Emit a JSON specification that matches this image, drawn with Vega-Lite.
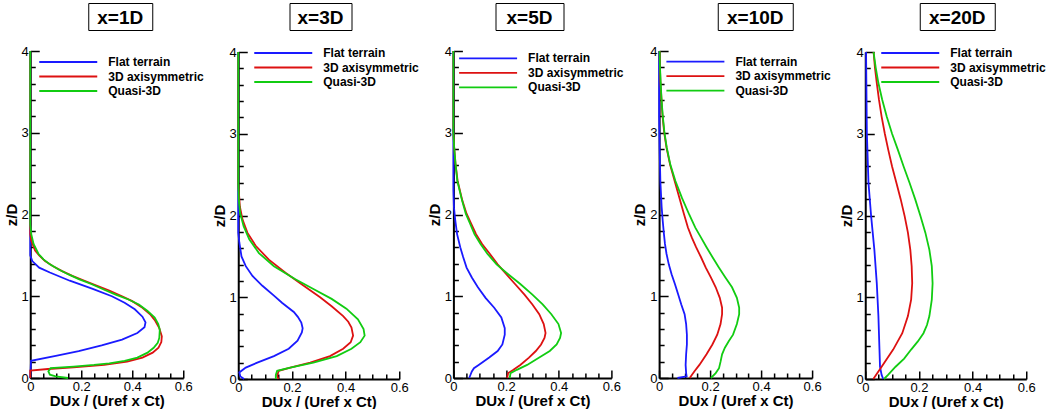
{
"$schema": "https://vega.github.io/schema/vega-lite/v6.json",
"background": "white",
"padding": {"left": 4, "top": 2, "right": 0, "bottom": 0},
"config": {
  "font": "Liberation Sans",
  "view": {"stroke": null},
  "axis": {"domainColor": "black", "domainWidth": 2, "tickColor": "black", "tickWidth": 1.5, "labelColor": "black", "labelFont": "Liberation Sans", "labelFontSize": 13, "titleFont": "Liberation Sans", "titleFontSize": 15, "titleFontWeight": "bold", "titleColor": "black", "grid": false, "labelFlush": false, "minExtent": 0},
  "legend": {"padding": 0, "symbolType": "M-4.46,0H4.46", "symbolSize": 169, "symbolStrokeWidth": 1.8, "labelFont": "Liberation Sans", "labelFontSize": 12, "labelFontWeight": "bold", "labelColor": "black", "labelOffset": 32.5, "rowPadding": 0.5}
},
"data": {"values": [
{"p":"1D","s":"Flat terrain","z":0,"u":0},{"p":"1D","s":"Flat terrain","z":0.21,"u":0.003},{"p":"1D","s":"Flat terrain","z":0.27,"u":0.1},{"p":"1D","s":"Flat terrain","z":0.33,"u":0.19},{"p":"1D","s":"Flat terrain","z":0.4,"u":0.28},{"p":"1D","s":"Flat terrain","z":0.47,"u":0.36},{"p":"1D","s":"Flat terrain","z":0.55,"u":0.42},{"p":"1D","s":"Flat terrain","z":0.62,"u":0.448},{"p":"1D","s":"Flat terrain","z":0.68,"u":0.452},{"p":"1D","s":"Flat terrain","z":0.75,"u":0.44},{"p":"1D","s":"Flat terrain","z":0.84,"u":0.41},{"p":"1D","s":"Flat terrain","z":0.92,"u":0.37},{"p":"1D","s":"Flat terrain","z":1.0,"u":0.32},{"p":"1D","s":"Flat terrain","z":1.09,"u":0.245},{"p":"1D","s":"Flat terrain","z":1.19,"u":0.155},{"p":"1D","s":"Flat terrain","z":1.29,"u":0.077},{"p":"1D","s":"Flat terrain","z":1.35,"u":0.035},{"p":"1D","s":"Flat terrain","z":1.43,"u":0.008},{"p":"1D","s":"Flat terrain","z":1.5,"u":0},{"p":"1D","s":"Flat terrain","z":4,"u":0},
{"p":"3D","s":"Flat terrain","z":0,"u":0.022},{"p":"3D","s":"Flat terrain","z":0.03,"u":0.008},{"p":"3D","s":"Flat terrain","z":0.08,"u":0.004},{"p":"3D","s":"Flat terrain","z":0.14,"u":0.028},{"p":"3D","s":"Flat terrain","z":0.2,"u":0.071},{"p":"3D","s":"Flat terrain","z":0.28,"u":0.133},{"p":"3D","s":"Flat terrain","z":0.37,"u":0.188},{"p":"3D","s":"Flat terrain","z":0.47,"u":0.221},{"p":"3D","s":"Flat terrain","z":0.57,"u":0.237},{"p":"3D","s":"Flat terrain","z":0.62,"u":0.24},{"p":"3D","s":"Flat terrain","z":0.69,"u":0.235},{"p":"3D","s":"Flat terrain","z":0.76,"u":0.222},{"p":"3D","s":"Flat terrain","z":0.82,"u":0.207},{"p":"3D","s":"Flat terrain","z":0.93,"u":0.164},{"p":"3D","s":"Flat terrain","z":1.02,"u":0.133},{"p":"3D","s":"Flat terrain","z":1.14,"u":0.09},{"p":"3D","s":"Flat terrain","z":1.26,"u":0.053},{"p":"3D","s":"Flat terrain","z":1.38,"u":0.028},{"p":"3D","s":"Flat terrain","z":1.5,"u":0.012},{"p":"3D","s":"Flat terrain","z":1.67,"u":0.004},{"p":"3D","s":"Flat terrain","z":1.79,"u":0},{"p":"3D","s":"Flat terrain","z":4,"u":0},
{"p":"5D","s":"Flat terrain","z":0,"u":0.06},{"p":"5D","s":"Flat terrain","z":0.04,"u":0.065},{"p":"5D","s":"Flat terrain","z":0.08,"u":0.07},{"p":"5D","s":"Flat terrain","z":0.12,"u":0.078},{"p":"5D","s":"Flat terrain","z":0.16,"u":0.096},{"p":"5D","s":"Flat terrain","z":0.25,"u":0.136},{"p":"5D","s":"Flat terrain","z":0.33,"u":0.168},{"p":"5D","s":"Flat terrain","z":0.41,"u":0.186},{"p":"5D","s":"Flat terrain","z":0.53,"u":0.195},{"p":"5D","s":"Flat terrain","z":0.61,"u":0.195},{"p":"5D","s":"Flat terrain","z":0.74,"u":0.182},{"p":"5D","s":"Flat terrain","z":0.86,"u":0.155},{"p":"5D","s":"Flat terrain","z":0.98,"u":0.122},{"p":"5D","s":"Flat terrain","z":1.11,"u":0.093},{"p":"5D","s":"Flat terrain","z":1.23,"u":0.07},{"p":"5D","s":"Flat terrain","z":1.35,"u":0.05},{"p":"5D","s":"Flat terrain","z":1.48,"u":0.037},{"p":"5D","s":"Flat terrain","z":1.6,"u":0.026},{"p":"5D","s":"Flat terrain","z":1.76,"u":0.014},{"p":"5D","s":"Flat terrain","z":1.93,"u":0.007},{"p":"5D","s":"Flat terrain","z":2.09,"u":0.002},{"p":"5D","s":"Flat terrain","z":2.3,"u":0},{"p":"5D","s":"Flat terrain","z":4,"u":0},
{"p":"10D","s":"Flat terrain","z":0,"u":0.072},{"p":"10D","s":"Flat terrain","z":0.02,"u":0.108},{"p":"10D","s":"Flat terrain","z":0.06,"u":0.106},{"p":"10D","s":"Flat terrain","z":0.16,"u":0.104},{"p":"10D","s":"Flat terrain","z":0.29,"u":0.106},{"p":"10D","s":"Flat terrain","z":0.41,"u":0.109},{"p":"10D","s":"Flat terrain","z":0.53,"u":0.109},{"p":"10D","s":"Flat terrain","z":0.66,"u":0.106},{"p":"10D","s":"Flat terrain","z":0.78,"u":0.1},{"p":"10D","s":"Flat terrain","z":0.9,"u":0.087},{"p":"10D","s":"Flat terrain","z":1.03,"u":0.074},{"p":"10D","s":"Flat terrain","z":1.15,"u":0.062},{"p":"10D","s":"Flat terrain","z":1.27,"u":0.049},{"p":"10D","s":"Flat terrain","z":1.39,"u":0.038},{"p":"10D","s":"Flat terrain","z":1.52,"u":0.029},{"p":"10D","s":"Flat terrain","z":1.64,"u":0.023},{"p":"10D","s":"Flat terrain","z":1.76,"u":0.019},{"p":"10D","s":"Flat terrain","z":1.93,"u":0.014},{"p":"10D","s":"Flat terrain","z":2.09,"u":0.01},{"p":"10D","s":"Flat terrain","z":2.4,"u":0.005},{"p":"10D","s":"Flat terrain","z":2.8,"u":0.002},{"p":"10D","s":"Flat terrain","z":3.2,"u":0},{"p":"10D","s":"Flat terrain","z":4,"u":0},
{"p":"20D","s":"Flat terrain","z":0,"u":0.067},{"p":"20D","s":"Flat terrain","z":0.05,"u":0.061},{"p":"20D","s":"Flat terrain","z":0.15,"u":0.055},{"p":"20D","s":"Flat terrain","z":0.36,"u":0.053},{"p":"20D","s":"Flat terrain","z":0.77,"u":0.049},{"p":"20D","s":"Flat terrain","z":1.17,"u":0.043},{"p":"20D","s":"Flat terrain","z":1.58,"u":0.034},{"p":"20D","s":"Flat terrain","z":1.99,"u":0.022},{"p":"20D","s":"Flat terrain","z":2.4,"u":0.012},{"p":"20D","s":"Flat terrain","z":3.01,"u":0.006},{"p":"20D","s":"Flat terrain","z":4,"u":0.003},
{"p":"1D","s":"3D axisymmetric","z":0,"u":0},{"p":"1D","s":"3D axisymmetric","z":0.09,"u":0},{"p":"1D","s":"3D axisymmetric","z":0.11,"u":0.07},{"p":"1D","s":"3D axisymmetric","z":0.13,"u":0.17},{"p":"1D","s":"3D axisymmetric","z":0.16,"u":0.29},{"p":"1D","s":"3D axisymmetric","z":0.2,"u":0.38},{"p":"1D","s":"3D axisymmetric","z":0.25,"u":0.44},{"p":"1D","s":"3D axisymmetric","z":0.31,"u":0.48},{"p":"1D","s":"3D axisymmetric","z":0.37,"u":0.503},{"p":"1D","s":"3D axisymmetric","z":0.44,"u":0.514},{"p":"1D","s":"3D axisymmetric","z":0.51,"u":0.516},{"p":"1D","s":"3D axisymmetric","z":0.61,"u":0.506},{"p":"1D","s":"3D axisymmetric","z":0.7,"u":0.49},{"p":"1D","s":"3D axisymmetric","z":0.78,"u":0.47},{"p":"1D","s":"3D axisymmetric","z":0.86,"u":0.44},{"p":"1D","s":"3D axisymmetric","z":0.94,"u":0.4},{"p":"1D","s":"3D axisymmetric","z":1.0,"u":0.36},{"p":"1D","s":"3D axisymmetric","z":1.07,"u":0.31},{"p":"1D","s":"3D axisymmetric","z":1.13,"u":0.26},{"p":"1D","s":"3D axisymmetric","z":1.19,"u":0.213},{"p":"1D","s":"3D axisymmetric","z":1.25,"u":0.165},{"p":"1D","s":"3D axisymmetric","z":1.31,"u":0.123},{"p":"1D","s":"3D axisymmetric","z":1.37,"u":0.088},{"p":"1D","s":"3D axisymmetric","z":1.43,"u":0.058},{"p":"1D","s":"3D axisymmetric","z":1.5,"u":0.035},{"p":"1D","s":"3D axisymmetric","z":1.56,"u":0.019},{"p":"1D","s":"3D axisymmetric","z":1.68,"u":0.004},{"p":"1D","s":"3D axisymmetric","z":1.76,"u":0},{"p":"1D","s":"3D axisymmetric","z":4,"u":0},
{"p":"3D","s":"3D axisymmetric","z":0,"u":0.15},{"p":"3D","s":"3D axisymmetric","z":0.04,"u":0.145},{"p":"3D","s":"3D axisymmetric","z":0.1,"u":0.151},{"p":"3D","s":"3D axisymmetric","z":0.14,"u":0.194},{"p":"3D","s":"3D axisymmetric","z":0.2,"u":0.268},{"p":"3D","s":"3D axisymmetric","z":0.28,"u":0.342},{"p":"3D","s":"3D axisymmetric","z":0.37,"u":0.391},{"p":"3D","s":"3D axisymmetric","z":0.45,"u":0.419},{"p":"3D","s":"3D axisymmetric","z":0.53,"u":0.428},{"p":"3D","s":"3D axisymmetric","z":0.63,"u":0.422},{"p":"3D","s":"3D axisymmetric","z":0.7,"u":0.41},{"p":"3D","s":"3D axisymmetric","z":0.77,"u":0.391},{"p":"3D","s":"3D axisymmetric","z":0.89,"u":0.348},{"p":"3D","s":"3D axisymmetric","z":1.0,"u":0.305},{"p":"3D","s":"3D axisymmetric","z":1.14,"u":0.244},{"p":"3D","s":"3D axisymmetric","z":1.3,"u":0.176},{"p":"3D","s":"3D axisymmetric","z":1.46,"u":0.114},{"p":"3D","s":"3D axisymmetric","z":1.63,"u":0.065},{"p":"3D","s":"3D axisymmetric","z":1.79,"u":0.034},{"p":"3D","s":"3D axisymmetric","z":1.95,"u":0.016},{"p":"3D","s":"3D axisymmetric","z":2.11,"u":0.006},{"p":"3D","s":"3D axisymmetric","z":2.4,"u":0},{"p":"3D","s":"3D axisymmetric","z":4,"u":0},
{"p":"5D","s":"3D axisymmetric","z":0,"u":0.204},{"p":"5D","s":"3D axisymmetric","z":0.06,"u":0.208},{"p":"5D","s":"3D axisymmetric","z":0.1,"u":0.228},{"p":"5D","s":"3D axisymmetric","z":0.16,"u":0.254},{"p":"5D","s":"3D axisymmetric","z":0.25,"u":0.287},{"p":"5D","s":"3D axisymmetric","z":0.33,"u":0.313},{"p":"5D","s":"3D axisymmetric","z":0.41,"u":0.333},{"p":"5D","s":"3D axisymmetric","z":0.49,"u":0.346},{"p":"5D","s":"3D axisymmetric","z":0.55,"u":0.35},{"p":"5D","s":"3D axisymmetric","z":0.66,"u":0.343},{"p":"5D","s":"3D axisymmetric","z":0.78,"u":0.326},{"p":"5D","s":"3D axisymmetric","z":0.9,"u":0.3},{"p":"5D","s":"3D axisymmetric","z":1.02,"u":0.27},{"p":"5D","s":"3D axisymmetric","z":1.15,"u":0.234},{"p":"5D","s":"3D axisymmetric","z":1.27,"u":0.201},{"p":"5D","s":"3D axisymmetric","z":1.39,"u":0.168},{"p":"5D","s":"3D axisymmetric","z":1.52,"u":0.138},{"p":"5D","s":"3D axisymmetric","z":1.64,"u":0.109},{"p":"5D","s":"3D axisymmetric","z":1.76,"u":0.086},{"p":"5D","s":"3D axisymmetric","z":1.89,"u":0.067},{"p":"5D","s":"3D axisymmetric","z":2.01,"u":0.05},{"p":"5D","s":"3D axisymmetric","z":2.17,"u":0.034},{"p":"5D","s":"3D axisymmetric","z":2.41,"u":0.016},{"p":"5D","s":"3D axisymmetric","z":2.62,"u":0.008},{"p":"5D","s":"3D axisymmetric","z":2.82,"u":0.003},{"p":"5D","s":"3D axisymmetric","z":3.0,"u":0},{"p":"5D","s":"3D axisymmetric","z":4,"u":0},
{"p":"10D","s":"3D axisymmetric","z":0,"u":0.12},{"p":"10D","s":"3D axisymmetric","z":0.08,"u":0.138},{"p":"10D","s":"3D axisymmetric","z":0.16,"u":0.158},{"p":"10D","s":"3D axisymmetric","z":0.29,"u":0.186},{"p":"10D","s":"3D axisymmetric","z":0.41,"u":0.209},{"p":"10D","s":"3D axisymmetric","z":0.53,"u":0.228},{"p":"10D","s":"3D axisymmetric","z":0.66,"u":0.241},{"p":"10D","s":"3D axisymmetric","z":0.78,"u":0.247},{"p":"10D","s":"3D axisymmetric","z":0.86,"u":0.247},{"p":"10D","s":"3D axisymmetric","z":0.98,"u":0.238},{"p":"10D","s":"3D axisymmetric","z":1.11,"u":0.222},{"p":"10D","s":"3D axisymmetric","z":1.23,"u":0.203},{"p":"10D","s":"3D axisymmetric","z":1.35,"u":0.183},{"p":"10D","s":"3D axisymmetric","z":1.48,"u":0.164},{"p":"10D","s":"3D axisymmetric","z":1.6,"u":0.145},{"p":"10D","s":"3D axisymmetric","z":1.72,"u":0.128},{"p":"10D","s":"3D axisymmetric","z":1.84,"u":0.113},{"p":"10D","s":"3D axisymmetric","z":2.0,"u":0.098},{"p":"10D","s":"3D axisymmetric","z":2.2,"u":0.08},{"p":"10D","s":"3D axisymmetric","z":2.41,"u":0.061},{"p":"10D","s":"3D axisymmetric","z":2.61,"u":0.043},{"p":"10D","s":"3D axisymmetric","z":2.82,"u":0.029},{"p":"10D","s":"3D axisymmetric","z":3.0,"u":0.02},{"p":"10D","s":"3D axisymmetric","z":3.22,"u":0.013},{"p":"10D","s":"3D axisymmetric","z":3.43,"u":0.009},{"p":"10D","s":"3D axisymmetric","z":3.63,"u":0.005},{"p":"10D","s":"3D axisymmetric","z":3.84,"u":0.003},{"p":"10D","s":"3D axisymmetric","z":4,"u":0.002},
{"p":"20D","s":"3D axisymmetric","z":0,"u":0.03},{"p":"20D","s":"3D axisymmetric","z":0.15,"u":0.061},{"p":"20D","s":"3D axisymmetric","z":0.36,"u":0.104},{"p":"20D","s":"3D axisymmetric","z":0.56,"u":0.138},{"p":"20D","s":"3D axisymmetric","z":0.77,"u":0.159},{"p":"20D","s":"3D axisymmetric","z":0.97,"u":0.171},{"p":"20D","s":"3D axisymmetric","z":1.17,"u":0.175},{"p":"20D","s":"3D axisymmetric","z":1.38,"u":0.173},{"p":"20D","s":"3D axisymmetric","z":1.58,"u":0.168},{"p":"20D","s":"3D axisymmetric","z":1.79,"u":0.159},{"p":"20D","s":"3D axisymmetric","z":1.99,"u":0.147},{"p":"20D","s":"3D axisymmetric","z":2.2,"u":0.132},{"p":"20D","s":"3D axisymmetric","z":2.4,"u":0.116},{"p":"20D","s":"3D axisymmetric","z":2.6,"u":0.1},{"p":"20D","s":"3D axisymmetric","z":2.8,"u":0.086},{"p":"20D","s":"3D axisymmetric","z":3.0,"u":0.073},{"p":"20D","s":"3D axisymmetric","z":3.21,"u":0.061},{"p":"20D","s":"3D axisymmetric","z":3.42,"u":0.051},{"p":"20D","s":"3D axisymmetric","z":3.62,"u":0.043},{"p":"20D","s":"3D axisymmetric","z":3.81,"u":0.036},{"p":"20D","s":"3D axisymmetric","z":4,"u":0.031},
{"p":"1D","s":"Quasi-3D","z":0,"u":0.148},{"p":"1D","s":"Quasi-3D","z":0.02,"u":0.1},{"p":"1D","s":"Quasi-3D","z":0.04,"u":0.077},{"p":"1D","s":"Quasi-3D","z":0.08,"u":0.071},{"p":"1D","s":"Quasi-3D","z":0.12,"u":0.08},{"p":"1D","s":"Quasi-3D","z":0.14,"u":0.17},{"p":"1D","s":"Quasi-3D","z":0.16,"u":0.25},{"p":"1D","s":"Quasi-3D","z":0.18,"u":0.31},{"p":"1D","s":"Quasi-3D","z":0.21,"u":0.37},{"p":"1D","s":"Quasi-3D","z":0.25,"u":0.42},{"p":"1D","s":"Quasi-3D","z":0.31,"u":0.46},{"p":"1D","s":"Quasi-3D","z":0.37,"u":0.484},{"p":"1D","s":"Quasi-3D","z":0.43,"u":0.5},{"p":"1D","s":"Quasi-3D","z":0.49,"u":0.506},{"p":"1D","s":"Quasi-3D","z":0.59,"u":0.508},{"p":"1D","s":"Quasi-3D","z":0.66,"u":0.502},{"p":"1D","s":"Quasi-3D","z":0.74,"u":0.488},{"p":"1D","s":"Quasi-3D","z":0.82,"u":0.46},{"p":"1D","s":"Quasi-3D","z":0.9,"u":0.426},{"p":"1D","s":"Quasi-3D","z":0.96,"u":0.385},{"p":"1D","s":"Quasi-3D","z":1.02,"u":0.335},{"p":"1D","s":"Quasi-3D","z":1.08,"u":0.29},{"p":"1D","s":"Quasi-3D","z":1.15,"u":0.239},{"p":"1D","s":"Quasi-3D","z":1.21,"u":0.19},{"p":"1D","s":"Quasi-3D","z":1.27,"u":0.148},{"p":"1D","s":"Quasi-3D","z":1.33,"u":0.11},{"p":"1D","s":"Quasi-3D","z":1.39,"u":0.077},{"p":"1D","s":"Quasi-3D","z":1.45,"u":0.052},{"p":"1D","s":"Quasi-3D","z":1.52,"u":0.032},{"p":"1D","s":"Quasi-3D","z":1.64,"u":0.013},{"p":"1D","s":"Quasi-3D","z":1.76,"u":0.004},{"p":"1D","s":"Quasi-3D","z":1.88,"u":0},{"p":"1D","s":"Quasi-3D","z":4,"u":0},
{"p":"3D","s":"Quasi-3D","z":0,"u":0.14},{"p":"3D","s":"Quasi-3D","z":0.05,"u":0.14},{"p":"3D","s":"Quasi-3D","z":0.1,"u":0.145},{"p":"3D","s":"Quasi-3D","z":0.14,"u":0.194},{"p":"3D","s":"Quasi-3D","z":0.2,"u":0.28},{"p":"3D","s":"Quasi-3D","z":0.28,"u":0.367},{"p":"3D","s":"Quasi-3D","z":0.37,"u":0.422},{"p":"3D","s":"Quasi-3D","z":0.45,"u":0.455},{"p":"3D","s":"Quasi-3D","z":0.53,"u":0.471},{"p":"3D","s":"Quasi-3D","z":0.61,"u":0.467},{"p":"3D","s":"Quasi-3D","z":0.73,"u":0.446},{"p":"3D","s":"Quasi-3D","z":0.86,"u":0.403},{"p":"3D","s":"Quasi-3D","z":0.98,"u":0.348},{"p":"3D","s":"Quasi-3D","z":1.1,"u":0.28},{"p":"3D","s":"Quasi-3D","z":1.22,"u":0.213},{"p":"3D","s":"Quasi-3D","z":1.38,"u":0.133},{"p":"3D","s":"Quasi-3D","z":1.54,"u":0.077},{"p":"3D","s":"Quasi-3D","z":1.71,"u":0.041},{"p":"3D","s":"Quasi-3D","z":1.87,"u":0.02},{"p":"3D","s":"Quasi-3D","z":2.03,"u":0.007},{"p":"3D","s":"Quasi-3D","z":2.2,"u":0.002},{"p":"3D","s":"Quasi-3D","z":2.4,"u":0},{"p":"3D","s":"Quasi-3D","z":4,"u":0},
{"p":"5D","s":"Quasi-3D","z":0,"u":0.214},{"p":"5D","s":"Quasi-3D","z":0.06,"u":0.217},{"p":"5D","s":"Quasi-3D","z":0.1,"u":0.241},{"p":"5D","s":"Quasi-3D","z":0.16,"u":0.28},{"p":"5D","s":"Quasi-3D","z":0.25,"u":0.326},{"p":"5D","s":"Quasi-3D","z":0.33,"u":0.366},{"p":"5D","s":"Quasi-3D","z":0.41,"u":0.392},{"p":"5D","s":"Quasi-3D","z":0.49,"u":0.405},{"p":"5D","s":"Quasi-3D","z":0.55,"u":0.409},{"p":"5D","s":"Quasi-3D","z":0.66,"u":0.399},{"p":"5D","s":"Quasi-3D","z":0.78,"u":0.372},{"p":"5D","s":"Quasi-3D","z":0.9,"u":0.339},{"p":"5D","s":"Quasi-3D","z":1.02,"u":0.3},{"p":"5D","s":"Quasi-3D","z":1.15,"u":0.254},{"p":"5D","s":"Quasi-3D","z":1.27,"u":0.208},{"p":"5D","s":"Quasi-3D","z":1.39,"u":0.164},{"p":"5D","s":"Quasi-3D","z":1.52,"u":0.129},{"p":"5D","s":"Quasi-3D","z":1.64,"u":0.103},{"p":"5D","s":"Quasi-3D","z":1.76,"u":0.08},{"p":"5D","s":"Quasi-3D","z":1.89,"u":0.063},{"p":"5D","s":"Quasi-3D","z":2.01,"u":0.047},{"p":"5D","s":"Quasi-3D","z":2.17,"u":0.033},{"p":"5D","s":"Quasi-3D","z":2.41,"u":0.015},{"p":"5D","s":"Quasi-3D","z":2.62,"u":0.008},{"p":"5D","s":"Quasi-3D","z":2.82,"u":0.003},{"p":"5D","s":"Quasi-3D","z":3.0,"u":0},{"p":"5D","s":"Quasi-3D","z":4,"u":0},
{"p":"10D","s":"Quasi-3D","z":0,"u":0.203},{"p":"10D","s":"Quasi-3D","z":0.06,"u":0.222},{"p":"10D","s":"Quasi-3D","z":0.12,"u":0.235},{"p":"10D","s":"Quasi-3D","z":0.2,"u":0.241},{"p":"10D","s":"Quasi-3D","z":0.29,"u":0.247},{"p":"10D","s":"Quasi-3D","z":0.37,"u":0.258},{"p":"10D","s":"Quasi-3D","z":0.45,"u":0.273},{"p":"10D","s":"Quasi-3D","z":0.53,"u":0.29},{"p":"10D","s":"Quasi-3D","z":0.66,"u":0.305},{"p":"10D","s":"Quasi-3D","z":0.78,"u":0.314},{"p":"10D","s":"Quasi-3D","z":0.86,"u":0.314},{"p":"10D","s":"Quasi-3D","z":0.98,"u":0.305},{"p":"10D","s":"Quasi-3D","z":1.11,"u":0.286},{"p":"10D","s":"Quasi-3D","z":1.23,"u":0.26},{"p":"10D","s":"Quasi-3D","z":1.35,"u":0.235},{"p":"10D","s":"Quasi-3D","z":1.48,"u":0.209},{"p":"10D","s":"Quasi-3D","z":1.6,"u":0.186},{"p":"10D","s":"Quasi-3D","z":1.72,"u":0.164},{"p":"10D","s":"Quasi-3D","z":1.84,"u":0.142},{"p":"10D","s":"Quasi-3D","z":2.0,"u":0.118},{"p":"10D","s":"Quasi-3D","z":2.2,"u":0.09},{"p":"10D","s":"Quasi-3D","z":2.41,"u":0.064},{"p":"10D","s":"Quasi-3D","z":2.61,"u":0.044},{"p":"10D","s":"Quasi-3D","z":2.82,"u":0.03},{"p":"10D","s":"Quasi-3D","z":3.0,"u":0.021},{"p":"10D","s":"Quasi-3D","z":3.22,"u":0.014},{"p":"10D","s":"Quasi-3D","z":3.43,"u":0.009},{"p":"10D","s":"Quasi-3D","z":3.63,"u":0.006},{"p":"10D","s":"Quasi-3D","z":3.84,"u":0.003},{"p":"10D","s":"Quasi-3D","z":4,"u":0.002},
{"p":"20D","s":"Quasi-3D","z":0,"u":0.07},{"p":"20D","s":"Quasi-3D","z":0.05,"u":0.085},{"p":"20D","s":"Quasi-3D","z":0.15,"u":0.113},{"p":"20D","s":"Quasi-3D","z":0.25,"u":0.145},{"p":"20D","s":"Quasi-3D","z":0.36,"u":0.171},{"p":"20D","s":"Quasi-3D","z":0.46,"u":0.196},{"p":"20D","s":"Quasi-3D","z":0.56,"u":0.217},{"p":"20D","s":"Quasi-3D","z":0.66,"u":0.23},{"p":"20D","s":"Quasi-3D","z":0.77,"u":0.239},{"p":"20D","s":"Quasi-3D","z":0.97,"u":0.248},{"p":"20D","s":"Quasi-3D","z":1.17,"u":0.251},{"p":"20D","s":"Quasi-3D","z":1.38,"u":0.248},{"p":"20D","s":"Quasi-3D","z":1.58,"u":0.239},{"p":"20D","s":"Quasi-3D","z":1.79,"u":0.224},{"p":"20D","s":"Quasi-3D","z":1.99,"u":0.206},{"p":"20D","s":"Quasi-3D","z":2.2,"u":0.186},{"p":"20D","s":"Quasi-3D","z":2.4,"u":0.165},{"p":"20D","s":"Quasi-3D","z":2.6,"u":0.143},{"p":"20D","s":"Quasi-3D","z":2.8,"u":0.122},{"p":"20D","s":"Quasi-3D","z":3.0,"u":0.1},{"p":"20D","s":"Quasi-3D","z":3.21,"u":0.08},{"p":"20D","s":"Quasi-3D","z":3.42,"u":0.063},{"p":"20D","s":"Quasi-3D","z":3.62,"u":0.049},{"p":"20D","s":"Quasi-3D","z":3.81,"u":0.039},{"p":"20D","s":"Quasi-3D","z":4,"u":0.031}
]},
"hconcat": [
 {"vconcat": [
   {"hconcat": [
     {"data": {"values": []}, "width": 6, "height": 27, "mark": "point"},
     {"data": {"values": [{"t": "x=1D"}]}, "width": 64, "height": 27, "view": {"stroke": "black", "strokeWidth": 1},
      "mark": {"type": "text", "fontSize": 19, "fontWeight": "bold", "font": "Liberation Sans", "color": "black", "dy": 1},
      "encoding": {"text": {"field": "t", "type": "nominal"}}}
    ], "spacing": 0},
   {"width": 153, "height": 327, "transform": [{"filter": "datum.p === '1D'"}],
    "layer": [
     {"mark": {"type": "line", "strokeWidth": 1.8},
      "encoding": {
       "x": {"field": "u", "type": "quantitative", "scale": {"domain": [0, 0.6], "nice": false}, "axis": {"values": [0, 0.2, 0.4, 0.6], "format": "~g", "tickSize": -8, "labelPadding": 10, "title": "DUx / (Uref x Ct)", "titlePadding": 0, "orient": "bottom"}},
       "y": {"field": "z", "type": "quantitative", "scale": {"domain": [0, 4], "nice": false}, "axis": {"values": [0, 1, 2, 3, 4], "format": "d", "tickSize": -9, "labelPadding": 11, "title": "z/D", "titlePadding": 2, "orient": "left"}},
       "color": {"field": "s", "type": "nominal", "scale": {"domain": ["Flat terrain", "3D axisymmetric", "Quasi-3D"], "range": ["#1a1aff", "#dd1111", "#11cc11"]}, "legend": {"orient": "none", "legendX": 30.5, "legendY": 3.5, "title": null}},
       "order": {"field": "z", "type": "quantitative"}}},
     {"mark": {"type": "point", "opacity": 0},
      "encoding": {
       "x": {"field": "u", "type": "quantitative", "axis": {"values": [0.05, 0.1, 0.15, 0.25, 0.3, 0.35, 0.45, 0.5, 0.55], "labels": false, "domain": false, "tickSize": -5, "title": null, "orient": "bottom"}},
       "y": {"field": "z", "type": "quantitative", "axis": {"values": [0.2, 0.4, 0.6, 0.8, 1.2, 1.4, 1.6, 1.8, 2.2, 2.4, 2.6, 2.8, 3.2, 3.4, 3.6, 3.8], "labels": false, "domain": false, "tickSize": -5, "title": null, "orient": "left"}}}}
    ],
    "resolve": {"axis": {"x": "independent", "y": "independent"}}}
  ], "spacing": 14, "bounds": "full", "center": true, "resolve": {"legend": {"color": "independent"}}},
 {"vconcat": [
   {"hconcat": [
     {"data": {"values": [{"t": "x=3D"}]}, "width": 62, "height": 27, "view": {"stroke": "black", "strokeWidth": 1},
      "mark": {"type": "text", "fontSize": 19, "fontWeight": "bold", "font": "Liberation Sans", "color": "black", "dy": 1},
      "encoding": {"text": {"field": "t", "type": "nominal"}}},
     {"data": {"values": []}, "width": 15, "height": 27, "mark": "point"}
    ], "spacing": 0},
   {"width": 161, "height": 327, "transform": [{"filter": "datum.p === '3D'"}],
    "layer": [
     {"mark": {"type": "line", "strokeWidth": 1.8},
      "encoding": {
       "x": {"field": "u", "type": "quantitative", "scale": {"domain": [0, 0.6], "nice": false}, "axis": {"values": [0, 0.2, 0.4, 0.6], "format": "~g", "tickSize": -8, "labelPadding": 10, "title": "DUx / (Uref x Ct)", "titlePadding": 0, "orient": "bottom"}},
       "y": {"field": "z", "type": "quantitative", "scale": {"domain": [0, 4], "nice": false}, "axis": {"values": [0, 1, 2, 3, 4], "format": "d", "tickSize": -9, "labelPadding": 11, "title": "z/D", "titlePadding": 2, "orient": "left"}},
       "color": {"field": "s", "type": "nominal", "scale": {"domain": ["Flat terrain", "3D axisymmetric", "Quasi-3D"], "range": ["#1a1aff", "#dd1111", "#11cc11"]}, "legend": {"orient": "none", "legendX": 37.5, "legendY": -6.5, "title": null}},
       "order": {"field": "z", "type": "quantitative"}}},
     {"mark": {"type": "point", "opacity": 0},
      "encoding": {
       "x": {"field": "u", "type": "quantitative", "axis": {"values": [0.05, 0.1, 0.15, 0.25, 0.3, 0.35, 0.45, 0.5, 0.55], "labels": false, "domain": false, "tickSize": -5, "title": null, "orient": "bottom"}},
       "y": {"field": "z", "type": "quantitative", "axis": {"values": [0.2, 0.4, 0.6, 0.8, 1.2, 1.4, 1.6, 1.8, 2.2, 2.4, 2.6, 2.8, 3.2, 3.4, 3.6, 3.8], "labels": false, "domain": false, "tickSize": -5, "title": null, "orient": "left"}}}}
    ],
    "resolve": {"axis": {"x": "independent", "y": "independent"}}}
  ], "spacing": 14, "bounds": "full", "center": true, "resolve": {"legend": {"color": "independent"}}},
 {"vconcat": [
   {"hconcat": [
     {"data": {"values": [{"t": "x=5D"}]}, "width": 68, "height": 27, "view": {"stroke": "black", "strokeWidth": 1},
      "mark": {"type": "text", "fontSize": 19, "fontWeight": "bold", "font": "Liberation Sans", "color": "black", "dy": 1},
      "encoding": {"text": {"field": "t", "type": "nominal"}}},
     {"data": {"values": []}, "width": 17, "height": 27, "mark": "point"}
    ], "spacing": 0},
   {"width": 158, "height": 327, "transform": [{"filter": "datum.p === '5D'"}],
    "layer": [
     {"mark": {"type": "line", "strokeWidth": 1.8},
      "encoding": {
       "x": {"field": "u", "type": "quantitative", "scale": {"domain": [0, 0.6], "nice": false}, "axis": {"values": [0, 0.2, 0.4, 0.6], "format": "~g", "tickSize": -8, "labelPadding": 10, "title": "DUx / (Uref x Ct)", "titlePadding": 0, "orient": "bottom"}},
       "y": {"field": "z", "type": "quantitative", "scale": {"domain": [0, 4], "nice": false}, "axis": {"values": [0, 1, 2, 3, 4], "format": "d", "tickSize": -9, "labelPadding": 11, "title": "z/D", "titlePadding": 2, "orient": "left"}},
       "color": {"field": "s", "type": "nominal", "scale": {"domain": ["Flat terrain", "3D axisymmetric", "Quasi-3D"], "range": ["#1a1aff", "#dd1111", "#11cc11"]}, "legend": {"orient": "none", "legendX": 27.2, "legendY": -0.2, "title": null}},
       "order": {"field": "z", "type": "quantitative"}}},
     {"mark": {"type": "point", "opacity": 0},
      "encoding": {
       "x": {"field": "u", "type": "quantitative", "axis": {"values": [0.05, 0.1, 0.15, 0.25, 0.3, 0.35, 0.45, 0.5, 0.55], "labels": false, "domain": false, "tickSize": -5, "title": null, "orient": "bottom"}},
       "y": {"field": "z", "type": "quantitative", "axis": {"values": [0.2, 0.4, 0.6, 0.8, 1.2, 1.4, 1.6, 1.8, 2.2, 2.4, 2.6, 2.8, 3.2, 3.4, 3.6, 3.8], "labels": false, "domain": false, "tickSize": -5, "title": null, "orient": "left"}}}}
    ],
    "resolve": {"axis": {"x": "independent", "y": "independent"}}}
  ], "spacing": 14, "bounds": "full", "center": true, "resolve": {"legend": {"color": "independent"}}},
 {"vconcat": [
   {"hconcat": [
     {"data": {"values": []}, "width": 20, "height": 27, "mark": "point"},
     {"data": {"values": [{"t": "x=10D"}]}, "width": 75, "height": 27, "view": {"stroke": "black", "strokeWidth": 1},
      "mark": {"type": "text", "fontSize": 19, "fontWeight": "bold", "font": "Liberation Sans", "color": "black", "dy": 1},
      "encoding": {"text": {"field": "t", "type": "nominal"}}}
    ], "spacing": 0},
   {"width": 153, "height": 327, "transform": [{"filter": "datum.p === '10D'"}],
    "layer": [
     {"mark": {"type": "line", "strokeWidth": 1.8},
      "encoding": {
       "x": {"field": "u", "type": "quantitative", "scale": {"domain": [0, 0.6], "nice": false}, "axis": {"values": [0, 0.2, 0.4, 0.6], "format": "~g", "tickSize": -8, "labelPadding": 10, "title": "DUx / (Uref x Ct)", "titlePadding": 0, "orient": "bottom"}},
       "y": {"field": "z", "type": "quantitative", "scale": {"domain": [0, 4], "nice": false}, "axis": {"values": [0, 1, 2, 3, 4], "format": "d", "tickSize": -9, "labelPadding": 11, "title": "z/D", "titlePadding": 2, "orient": "left"}},
       "color": {"field": "s", "type": "nominal", "scale": {"domain": ["Flat terrain", "3D axisymmetric", "Quasi-3D"], "range": ["#1a1aff", "#dd1111", "#11cc11"]}, "legend": {"orient": "none", "legendX": 28.8, "legendY": 3.2, "title": null}},
       "order": {"field": "z", "type": "quantitative"}}},
     {"mark": {"type": "point", "opacity": 0},
      "encoding": {
       "x": {"field": "u", "type": "quantitative", "axis": {"values": [0.05, 0.1, 0.15, 0.25, 0.3, 0.35, 0.45, 0.5, 0.55], "labels": false, "domain": false, "tickSize": -5, "title": null, "orient": "bottom"}},
       "y": {"field": "z", "type": "quantitative", "axis": {"values": [0.2, 0.4, 0.6, 0.8, 1.2, 1.4, 1.6, 1.8, 2.2, 2.4, 2.6, 2.8, 3.2, 3.4, 3.6, 3.8], "labels": false, "domain": false, "tickSize": -5, "title": null, "orient": "left"}}}}
    ],
    "resolve": {"axis": {"x": "independent", "y": "independent"}}}
  ], "spacing": 14, "bounds": "full", "center": true, "resolve": {"legend": {"color": "independent"}}},
 {"vconcat": [
   {"hconcat": [
     {"data": {"values": []}, "width": 3, "height": 27, "mark": "point"},
     {"data": {"values": [{"t": "x=20D"}]}, "width": 75, "height": 27, "view": {"stroke": "black", "strokeWidth": 1},
      "mark": {"type": "text", "fontSize": 19, "fontWeight": "bold", "font": "Liberation Sans", "color": "black", "dy": 1},
      "encoding": {"text": {"field": "t", "type": "nominal"}}}
    ], "spacing": 0},
   {"width": 161, "height": 327, "transform": [{"filter": "datum.p === '20D'"}],
    "layer": [
     {"mark": {"type": "line", "strokeWidth": 1.8},
      "encoding": {
       "x": {"field": "u", "type": "quantitative", "scale": {"domain": [0, 0.6], "nice": false}, "axis": {"values": [0, 0.2, 0.4, 0.6], "format": "~g", "tickSize": -8, "labelPadding": 10, "title": "DUx / (Uref x Ct)", "titlePadding": 0, "orient": "bottom"}},
       "y": {"field": "z", "type": "quantitative", "scale": {"domain": [0, 4], "nice": false}, "axis": {"values": [0, 1, 2, 3, 4], "format": "d", "tickSize": -9, "labelPadding": 11, "title": "z/D", "titlePadding": 2, "orient": "left"}},
       "color": {"field": "s", "type": "nominal", "scale": {"domain": ["Flat terrain", "3D axisymmetric", "Quasi-3D"], "range": ["#1a1aff", "#dd1111", "#11cc11"]}, "legend": {"orient": "none", "legendX": 37.5, "legendY": -6.5, "title": null}},
       "order": {"field": "z", "type": "quantitative"}}},
     {"mark": {"type": "point", "opacity": 0},
      "encoding": {
       "x": {"field": "u", "type": "quantitative", "axis": {"values": [0.05, 0.1, 0.15, 0.25, 0.3, 0.35, 0.45, 0.5, 0.55], "labels": false, "domain": false, "tickSize": -5, "title": null, "orient": "bottom"}},
       "y": {"field": "z", "type": "quantitative", "axis": {"values": [0.2, 0.4, 0.6, 0.8, 1.2, 1.4, 1.6, 1.8, 2.2, 2.4, 2.6, 2.8, 3.2, 3.4, 3.6, 3.8], "labels": false, "domain": false, "tickSize": -5, "title": null, "orient": "left"}}}}
    ],
    "resolve": {"axis": {"x": "independent", "y": "independent"}}}
  ], "spacing": 14, "bounds": "full", "center": true, "resolve": {"legend": {"color": "independent"}}}
],
"spacing": 8,
"resolve": {"legend": {"color": "independent"}}
}
